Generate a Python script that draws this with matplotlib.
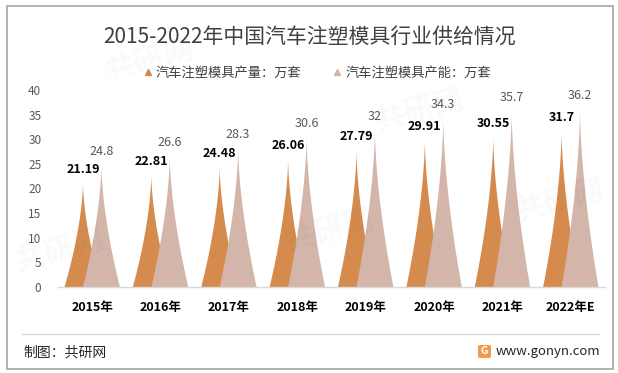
#!/usr/bin/env python3
# 2015-2022年中国汽车注塑模具行业供给情况 (尖峰柱图)
import numpy as np
import matplotlib
matplotlib.use('Agg')
import matplotlib.pyplot as plt
from matplotlib.lines import Line2D
from matplotlib.patches import Rectangle, FancyBboxPatch

plt.rcParams['font.family'] = ['Noto Sans CJK SC', 'DejaVu Sans']

years = ['2015年', '2016年', '2017年', '2018年', '2019年', '2020年', '2021年', '2022年E']
output = [21.19, 22.81, 24.48, 26.06, 27.79, 29.91, 30.55, 31.7]
capacity = [24.8, 26.6, 28.3, 30.6, 32, 34.3, 35.7, 36.2]
output_labels = ['21.19', '22.81', '24.48', '26.06', '27.79', '29.91', '30.55', '31.7']
capacity_labels = ['24.8', '26.6', '28.3', '30.6', '32', '34.3', '35.7', '36.2']
series_names = ['汽车注塑模具产量：万套', '汽车注塑模具产能：万套']

C_OUT = '#D68B4E'
C_CAP = '#D3B5AA'

W, H = 618, 373
fig = plt.figure(figsize=(W / 100, H / 100), dpi=100)
fig.patch.set_facecolor('white')


def px(x, y):
    """像素坐标 -> figure 比例"""
    return x / W, 1 - y / H


# 外边框
fig.patches.append(Rectangle(px(7, 369), 606 / W, 363 / H, transform=fig.transFigure,
                             fill=False, edgecolor='#A6A6A6', linewidth=1.2))

# 水印 (很淡)
for (wx, wy, s) in [(150, 60, '共研网'), (420, 110, '共研网'), (60, 250, '共研网'),
                    (330, 230, '共研网'), (560, 200, '共研网')]:
    fig.text(*px(wx, wy), s, fontsize=22, color='#000000', alpha=0.025,
             rotation=15, ha='center', va='center', fontweight='bold')

ax = fig.add_axes([58 / W, 1 - 287 / H, (605 - 58) / W, (287 - 90) / H])
ax.set_xlim(-0.5, len(years) - 0.5)
ax.set_ylim(0, 40)
ax.set_facecolor('none')

off = 0.135
hw = 0.27
f = np.linspace(0, 1, 80)
prof = (1 - f) ** 1.65


def spike(xc, h, color):
    xs = np.concatenate([xc - hw * prof, (xc + hw * prof)[::-1]])
    ys = np.concatenate([f * h, (f * h)[::-1]])
    ax.fill(xs, ys, color=color, linewidth=0, zorder=2)


for i in range(len(years)):
    spike(i - off, output[i], C_OUT)
    spike(i + off, capacity[i], C_CAP)
    ax.annotate(output_labels[i], (i - off, output[i]), xytext=(0, 9.5),
                textcoords='offset points', ha='center', va='center',
                fontsize=9, fontweight='bold', color='#000000', zorder=3)
    ax.annotate(capacity_labels[i], (i + off, capacity[i]), xytext=(0, 9.5),
                textcoords='offset points', ha='center', va='center',
                fontsize=9, color='#595959', zorder=3)

for s in ['top', 'right', 'left']:
    ax.spines[s].set_visible(False)
ax.spines['bottom'].set_color('#D9D9D9')
ax.spines['bottom'].set_linewidth(1)

ax.set_yticks(range(0, 41, 5))
ax.tick_params(axis='y', length=0, pad=12, labelsize=8.5, labelcolor='#595959')
ax.set_xticks(range(len(years)))
ax.set_xticklabels(years, fontsize=9, fontweight='bold', color='#000000')
ax.tick_params(axis='x', length=0, pad=10)

# 标题
fig.text(*px(310, 38), '2015-2022年中国汽车注塑模具行业供给情况', fontsize=15,
         color='#404040', ha='center', va='center')

# 图例
handles = [Line2D([], [], marker='^', linestyle='none', markersize=5,
                  markerfacecolor=c, markeredgecolor=c) for c in (C_OUT, C_CAP)]
fig.legend(handles, series_names, loc='center', bbox_to_anchor=px(316, 73),
           ncol=2, frameon=False, fontsize=9.5, handletextpad=0.1,
           columnspacing=2.2, handlelength=1.0, labelcolor='#404040')

# 底部分隔线和来源
fig.add_artist(Line2D([22 / W, 599 / W], [1 - 334 / H, 1 - 334 / H],
                      color='#D9D9D9', linewidth=1, transform=fig.transFigure))
fig.text(*px(23, 352), '制图：共研网', fontsize=10, color='#262626', ha='left', va='center')
fig.text(*px(496, 351), 'www.gonyn.com', fontsize=9.5, color='#262626', ha='left', va='center')
fig.patches.append(FancyBboxPatch(px(478, 358), 13 / W, 13 / H, transform=fig.transFigure,
                                  boxstyle='round,pad=0,rounding_size=0.004',
                                  facecolor='#F39A4C', edgecolor='none'))
fig.text(*px(484.5, 351.5), 'G', fontsize=7.5, color='white', fontweight='bold',
         ha='center', va='center')

fig.savefig('out.png', dpi=100)
